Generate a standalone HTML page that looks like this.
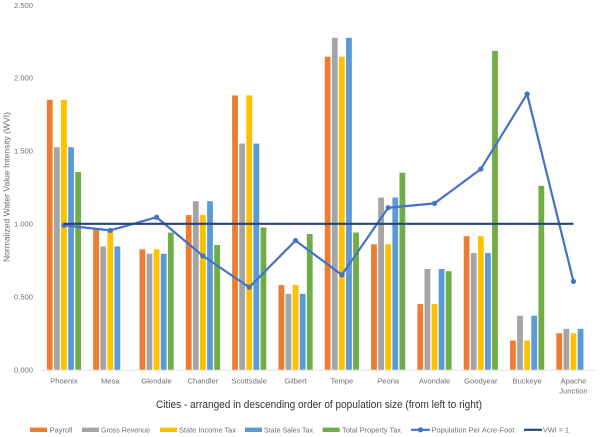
<!DOCTYPE html>
<html>
<head>
<meta charset="utf-8">
<style>
html,body{margin:0;padding:0;background:#fff;width:600px;height:437px;overflow:hidden}
svg{display:block;font-family:"Liberation Sans",sans-serif}
</style>
</head>
<body>
<svg id="chart" width="600" height="437" viewBox="0 0 600 437" xmlns="http://www.w3.org/2000/svg"></svg>
<script>
const cities = [["Phoenix"],["Mesa"],["Glendale"],["Chandler"],["Scottsdale"],["Gilbert"],["Tempe"],["Peoria"],["Avondale"],["Goodyear"],["Buckeye"],["Apache","Junction"]];
const payroll = [1.85,0.96,0.825,1.06,1.88,0.58,2.145,0.86,0.45,0.915,0.2,0.25];
const grossRevenue = [1.525,0.845,0.795,1.155,1.55,0.52,2.275,1.18,0.69,0.80,0.37,0.28];
const stateIncomeTax = [1.85,0.96,0.825,1.06,1.88,0.58,2.145,0.86,0.45,0.915,0.2,0.25];
const stateSalesTax = [1.525,0.845,0.795,1.155,1.55,0.52,2.275,1.18,0.69,0.80,0.37,0.28];
const totalPropertyTax = [1.355,0,0.94,0.855,0.975,0.93,0.94,1.35,0.675,2.185,1.26,0];
const populationPerAcreFoot = [0.99,0.955,1.045,0.78,0.565,0.885,0.65,1.11,1.14,1.375,1.89,0.605];
const vwiLine = [1,1,1,1,1,1,1,1,1,1,1,1];
const yTicks = ["0.000","0.500","1.000","1.500","2.000","2.500"];
const barSeries = [
  {name:"payroll",color:"#ed7d31",values:payroll},
  {name:"gross-revenue",color:"#a5a5a5",values:grossRevenue},
  {name:"state-income-tax",color:"#ffc000",values:stateIncomeTax},
  {name:"state-sales-tax",color:"#5b9bd5",values:stateSalesTax},
  {name:"total-property-tax",color:"#70ad47",values:totalPropertyTax}
];

const svg = document.getElementById('chart');
const NS = 'http://www.w3.org/2000/svg';
const plotLeft = 40.8, plotRight = 596.6, y0 = 369.7, unit = 145.9;
const band = (plotRight - plotLeft) / cities.length;
const xScale = i => plotLeft + band * (i + 0.5);
const yScale = v => y0 - v * unit;

function mk(tag, attrs, text) {
  const el = document.createElementNS(NS, tag);
  for (const k in attrs) el.setAttribute(k, attrs[k]);
  if (text !== undefined) el.textContent = text;
  return el;
}

// y tick labels
yTicks.forEach(t => {
  const el = mk('text', {x: 33, y: yScale(parseFloat(t)) + 2.8, 'text-anchor': 'end', 'font-size': 7.6, fill: '#6f6f6f'}, t);
  
  
  svg.appendChild(el);
});

// axis line
const axis = mk('line', {x1: plotLeft, x2: plotRight, y1: y0 + 0.5, y2: y0 + 0.5, stroke: '#e6e6e6', 'stroke-width': 1.2});


svg.appendChild(axis);

// bars
const barW = 5.8, barStep = 7.1;
barSeries.forEach((s, si) => {
  s.values.forEach((v, i) => {
    if (v <= 0) return;
    const r = mk('rect', {x: xScale(i) + (si - 2) * barStep - barW / 2, y: yScale(v), width: barW, height: y0 - yScale(v), fill: s.color});
    
    
    svg.appendChild(r);
  });
});

// population line
const popPts = populationPerAcreFoot.map((v, i) => xScale(i) + ',' + yScale(v)).join(' ');
const popLine = mk('polyline', {points: popPts, fill: 'none', stroke: '#4472c4', 'stroke-width': 2.2, 'stroke-linejoin': 'round'});


svg.appendChild(popLine);
populationPerAcreFoot.forEach((v, i) => {
  const c = mk('circle', {cx: xScale(i), cy: yScale(v), r: 2.6, fill: '#4472c4'});
  
  
  svg.appendChild(c);
});

// VWI line
const vwiPts = vwiLine.map((v, i) => xScale(i) + ',' + yScale(v)).join(' ');
const vwi = mk('polyline', {points: vwiPts, fill: 'none', stroke: '#264478', 'stroke-width': 2.2});


svg.appendChild(vwi);

// category labels
cities.forEach((lines, i) => {
  lines.forEach((line, li) => {
    const t = mk('text', {x: xScale(i), y: 383.5 + li * 10, 'text-anchor': 'middle', 'font-size': 7.6, fill: '#6f6f6f'}, line);
    
    
    svg.appendChild(t);
  });
});

// axis titles
const yTitle = mk('text', {transform: 'translate(9.5,187) rotate(-90)', 'text-anchor': 'middle', 'font-size': 8.4, fill: '#6a6a6a', textLength: 150, lengthAdjust: 'spacingAndGlyphs'}, 'Normalized Water Value Intensity (WVI)');


svg.appendChild(yTitle);

const xTitle = mk('text', {x: 319, y: 408, 'text-anchor': 'middle', 'font-size': 11.3, fill: '#333333', textLength: 326, lengthAdjust: 'spacingAndGlyphs'}, 'Cities - arranged in descending order of population size (from left to right)');


svg.appendChild(xTitle);

// legend
const legendBars = [
  ['Payroll', '#ed7d31', 30, 49.5, 23],
  ['Gross Revenue', '#a5a5a5', 82, 101, 49],
  ['State Income Tax', '#ffc000', 160, 179, 57],
  ['State Sales Tax', '#5b9bd5', 245, 264, 49],
  ['Total Property Tax', '#70ad47', 322.7, 342, 59]
];
legendBars.forEach(l => {
  const r = mk('rect', {x: l[2], y: 427.6, width: 17, height: 4.4, fill: l[1]});
  
  
  svg.appendChild(r);
  const t = mk('text', {x: l[3], y: 432.6, 'font-size': 7.6, fill: '#6f6f6f', textLength: l[4], lengthAdjust: 'spacingAndGlyphs'}, l[0]);
  
  
  svg.appendChild(t);
});

const popKey = mk('line', {x1: 411, x2: 430, y1: 429.8, y2: 429.8, stroke: '#4472c4', 'stroke-width': 2.2});


svg.appendChild(popKey);
const popDot = mk('circle', {cx: 420.5, cy: 429.8, r: 2.6, fill: '#4472c4'});


svg.appendChild(popDot);
const popText = mk('text', {x: 431.5, y: 432.6, 'font-size': 7.6, fill: '#6f6f6f', textLength: 83, lengthAdjust: 'spacingAndGlyphs'}, 'Population Per Acre-Foot');


svg.appendChild(popText);

const vwiKey = mk('line', {x1: 524, x2: 542, y1: 429.8, y2: 429.8, stroke: '#264478', 'stroke-width': 2.2});


svg.appendChild(vwiKey);
const vwiText = mk('text', {x: 543, y: 432.6, 'font-size': 7.6, fill: '#6f6f6f', textLength: 26, lengthAdjust: 'spacingAndGlyphs'}, 'VWI = 1');


svg.appendChild(vwiText);
</script>
</body>
</html>
